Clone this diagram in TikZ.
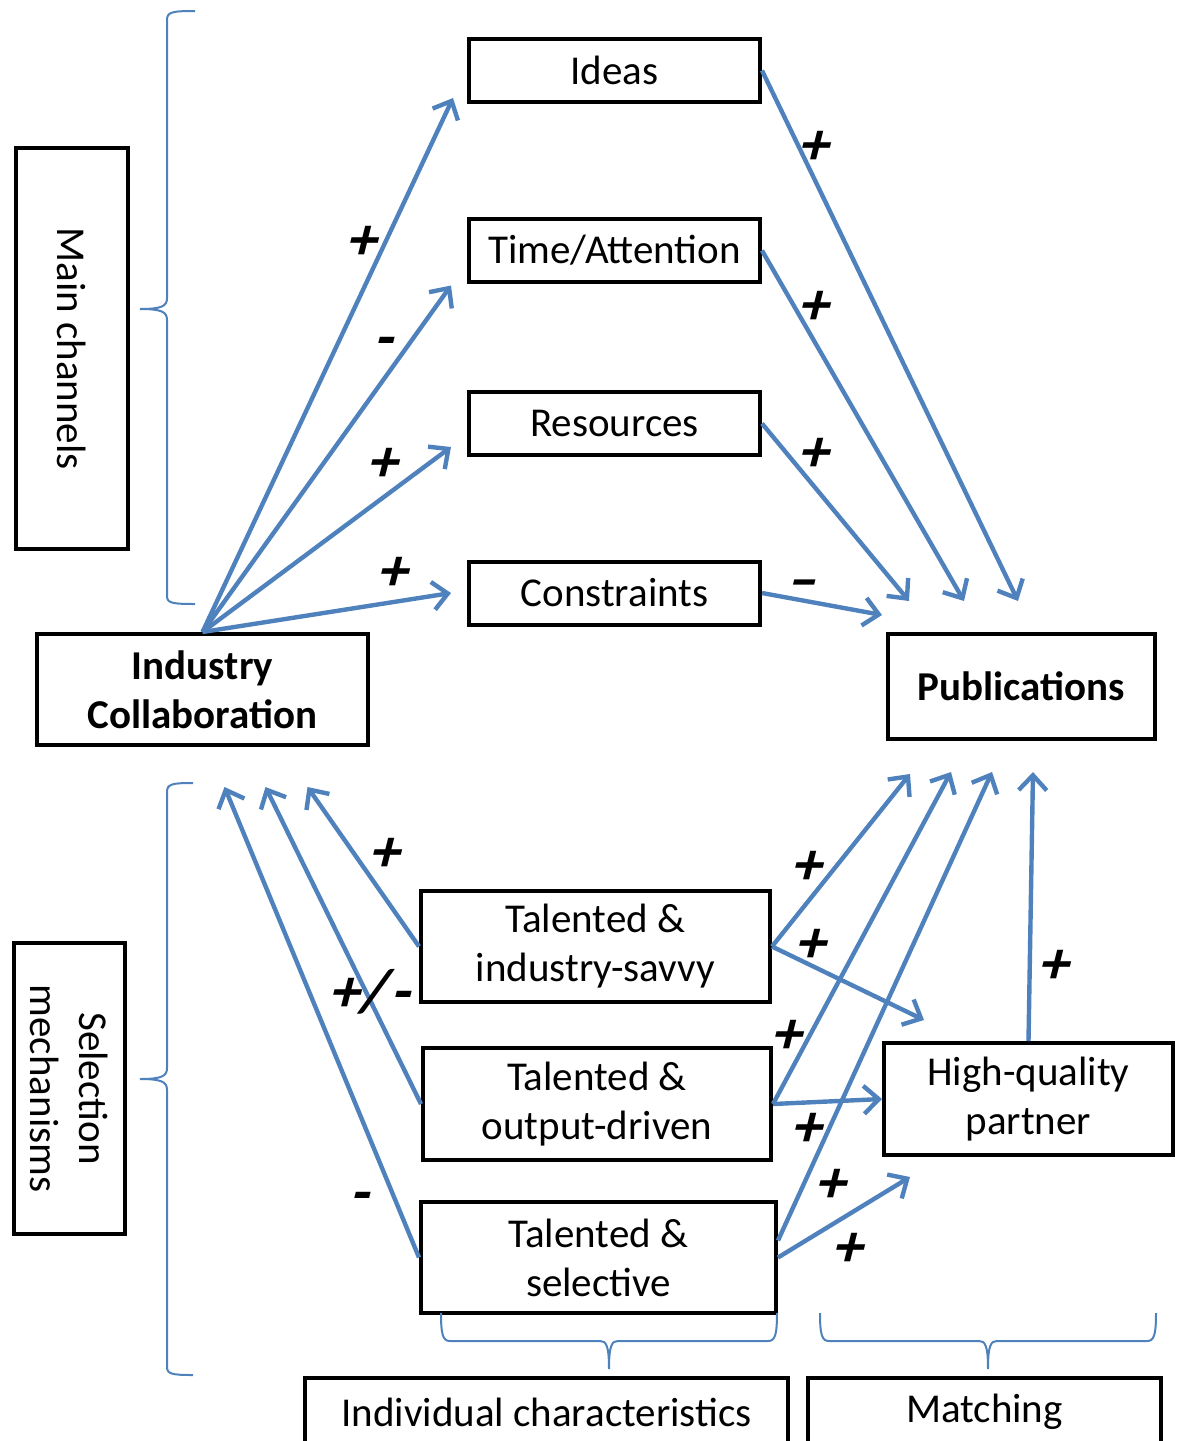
\documentclass[tikz,border=0pt]{standalone}
\usepackage{fontspec}
\setmainfont{Carlito}
\newfontfamily\signfont[FakeSlant=0.25]{Carlito}
\usetikzlibrary{arrows.meta,calc}
\definecolor{linkblue}{RGB}{79,129,189}
\tikzset{
  box/.style={draw,line width=2pt,align=center,inner sep=2pt},
  channel/.style={box,minimum width=145.5pt,minimum height=31.5pt},
  trait/.style={box,minimum width=175pt,minimum height=55.5pt},
  link/.style={linkblue,line width=2.2pt,-{Straight Barb[length=7.5pt,width=14pt]}},
  sign/.style={font=\fontsize{30}{32}\signfont\bfseries,inner sep=0pt},
  bracket/.style={linkblue,line width=1pt}
}
\begin{document}
\begin{tikzpicture}[x=0.5pt,y=-0.5pt,font=\fontsize{20.5}{24.5}\selectfont]
\useasboundingbox (0,0) rectangle (1177,1441);

\node[channel] (ideas) at (614.5,70.5) {Ideas};
\node[channel] (time) at (614.5,250.5) {Time/Attention};
\node[channel] (res) at (614.5,423.5) {Resources};
\node[channel] (cons) at (614.5,593) {Constraints};

\node[box,rotate=-90,minimum width=200.5pt,minimum height=56pt] (mainch) at (72,348.5) {Main channels};
\node[box,rotate=-90,minimum width=145.5pt,minimum height=55.5pt] (selmech) at (69.5,1088.5) {Selection\\mechanisms};

\node[box,minimum width=165.5pt,minimum height=55.5pt,font=\fontsize{20.5}{24.5}\selectfont\bfseries] (ic) at (202.5,689.5) {Industry\\Collaboration};
\node[box,minimum width=133.5pt,minimum height=52.5pt,font=\fontsize{20.5}{24.5}\selectfont\bfseries] (pub) at (1021.5,686.5) {Publications};

\node[trait,minimum width=174.5pt] (tis) at (595.5,946.5) {Talented \&\\industry-savvy};
\node[trait,minimum width=174pt,minimum height=56pt] (tod) at (597,1104) {Talented \&\\output-driven};
\node[trait,minimum width=177.5pt] (ts) at (598.5,1257.5) {Talented \&\\selective};
\node[box,minimum width=144.5pt,minimum height=56pt] (hqp) at (1028.5,1099) {High-quality\\partner};

\node[box,minimum width=241.5pt,minimum height=34pt] (indiv) at (546.5,1412) {Individual characteristics};
\node[box,minimum width=176.5pt,minimum height=34pt] (match) at (984.5,1412) {Matching};

\draw[link] (ic.north) -- ($(ideas.south west)+(-14,-6)$);
\draw[link] (ic.north) -- ($(time.south west)+(-16,1.5)$);
\draw[link] (ic.north) -- ($(res.south west)+(-16,-10)$);
\draw[link] (ic.north) -- ($(cons.west)+(-16,0)$);

\draw[link] (ideas.east) -- ($(pub.north west)+(132,-31)$);
\draw[link] (time.east) -- ($(pub.north west)+(78,-31)$);
\draw[link] (res.east) -- ($(pub.north west)+(23,-31)$);
\draw[link] (cons.east) -- ($(pub.north west)+(-4,-17)$);

\draw[link] (tis.west) -- ($(ic.south)+(105,40)$);
\draw[link] (tod.west) -- ($(ic.south)+(63,40)$);
\draw[link] (ts.west) -- ($(ic.south)+(22,40)$);

\draw[link] (tis.east) -- ($(pub.south west)+(24,33)$);
\draw[link] (tod.east) -- ($(pub.south west)+(65,31)$);
\draw[link] ($(ts.east)+(0,-17)$) -- ($(pub.south west)+(106,31)$);
\draw[link] (hqp.north) -- ($(pub.south west)+(147,31)$);
\draw[link] (tis.east) -- ($(hqp.north west)+(42,-21)$);
\draw[link] (tod.east) -- (hqp.west);
\draw[link] (ts.east) -- ($(hqp.south west)+(28,20)$);

\node[sign] (s1) at (360,243) {+};
\node[sign] (s2) at (383,347) {-};
\node[sign] (s3) at (381,465) {+};
\node[sign] (s4) at (391,574) {+};
\node[sign] (s5) at (812,148) {+};
\node[sign] (s6) at (812,308) {+};
\node[sign] (s7) at (812,455) {+};
\node[sign] (s8) at (800,590) {–};
\node[sign] (s9) at (383,855) {+};
\node[sign] (s10) at (369,992) {+/\hspace{3pt}-};
\node[sign] (s11) at (359,1202) {-};
\node[sign] (s12) at (805,868) {+};
\node[sign] (s13) at (809,946) {+};
\node[sign] (s14) at (785,1037) {+};
\node[sign] (s15) at (805,1130) {+};
\node[sign] (s16) at (829,1186) {+};
\node[sign] (s17) at (846,1250) {+};
\node[sign] (s18) at (1052,967) {+};

\draw[bracket] (195,11) .. controls (172,11) and (167,12) .. (167,20) -- (167,298)
  .. controls (167,306) and (162,309) .. (140,309) .. controls (162,309) and (167,312) .. (167,320)
  -- (167,596) .. controls (167,603) and (172,604) .. (195,604);
\draw[bracket] (193,783) .. controls (172,783) and (167,784) .. (167,792) -- (167,1068)
  .. controls (167,1076) and (162,1079) .. (140,1079) .. controls (162,1079) and (167,1082) .. (167,1090)
  -- (167,1367) .. controls (167,1374) and (172,1375) .. (193,1375);
\draw[bracket] (441,1313) .. controls (441,1335) and (443,1341) .. (450,1341) -- (600,1341)
  .. controls (606,1341) and (609,1345) .. (609,1369) .. controls (609,1345) and (612,1341) .. (618,1341)
  -- (768,1341) .. controls (775,1341) and (777,1335) .. (777,1313);
\draw[bracket] (820,1313) .. controls (820,1335) and (822,1341) .. (829,1341) -- (979,1341)
  .. controls (985,1341) and (988,1345) .. (988,1369) .. controls (988,1345) and (991,1341) .. (997,1341)
  -- (1147,1341) .. controls (1154,1341) and (1156,1335) .. (1156,1313);
\end{tikzpicture}
\end{document}
